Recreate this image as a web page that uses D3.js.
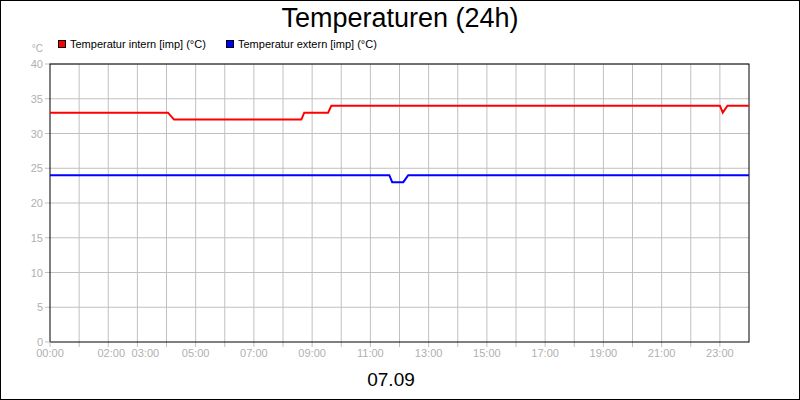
<!DOCTYPE html>
<html><head><meta charset="utf-8">
<script src="https://cdn.jsdelivr.net/npm/d3@7"></script>
<style>body{margin:0}svg{display:block;font-family:"Liberation Sans",Arial,sans-serif}</style>
</head><body><svg id="c" width="800" height="400"></svg>
<script>
const internHours = [0, 4.05, 4.26, 8.63, 8.73, 9.55, 9.66, 23.0, 23.1, 23.26, 24];
const internValues = [33, 33, 32, 32, 33, 33, 34, 34, 33, 34, 34];
const externHours = [0, 11.65, 11.75, 12.13, 12.3, 24];
const externValues = [24, 24, 23, 23, 24, 24];
const tickHours = [0, 2, 3, 5, 7, 9, 11, 13, 15, 17, 19, 21, 23];
const yTicks = [0, 5, 10, 15, 20, 25, 30, 35, 40];

const svg = d3.select("#c");
svg.append("rect").attr("x", 0.5).attr("y", 0.5).attr("width", 799).attr("height", 399)
  .attr("fill", "#fff").attr("stroke", "#000");

const x = d3.scaleLinear().domain([0, 24]).range([50, 749]);
const y = d3.scaleLinear().domain([0, 40]).range([342, 64]);

// Gitter
svg.append("g").selectAll("line").data(d3.range(1, 24)).join("line")
  .attr("x1", d => x(d)).attr("x2", d => x(d)).attr("y1", 64).attr("y2", 347)
  .attr("stroke", "#c0c0c0");
svg.append("g").selectAll("line").data(yTicks.slice(1)).join("line")
  .attr("x1", 45).attr("x2", 749).attr("y1", d => y(d)).attr("y2", d => y(d))
  .attr("stroke", "#c0c0c0");

svg.append("rect").attr("x", 50).attr("y", 64).attr("width", 699).attr("height", 278)
  .attr("fill", "none").attr("stroke", "#000");
svg.append("line").attr("x1", 50).attr("x2", 50).attr("y1", 342).attr("y2", 347).attr("stroke", "#c0c0c0");
svg.append("line").attr("x1", 45).attr("x2", 50).attr("y1", 342).attr("y2", 342).attr("stroke", "#c0c0c0");

svg.append("g").selectAll("text").data(yTicks).join("text")
  .attr("x", 43).attr("y", d => y(d) + 4).attr("text-anchor", "end")
  .attr("font-size", 11).attr("fill", "#b0b0b0").text(d => d);
svg.append("text").attr("x", 43).attr("y", 52).attr("text-anchor", "end")
  .attr("font-size", 10).attr("fill", "#b0b0b0").text("°C");

svg.append("g").selectAll("text").data(tickHours).join("text")
  .attr("x", d => x(d) + (d === 2 ? 3 : d === 3 ? 8 : 0)).attr("y", 357).attr("text-anchor", "middle")
  .attr("font-size", 11).attr("fill", "#b0b0b0")
  .text(d => String(d).padStart(2, "0") + ":00");

const line = d3.line().x(d => x(d[0])).y(d => y(d[1]));
svg.append("path").datum(internHours.map((h, i) => [h, internValues[i]]))
  .attr("d", line).attr("fill", "none").attr("stroke", "#ff0000").attr("stroke-width", 2);
svg.append("path").datum(externHours.map((h, i) => [h, externValues[i]]))
  .attr("d", line).attr("fill", "none").attr("stroke", "#0000ff").attr("stroke-width", 2);

svg.append("text").attr("x", 400).attr("y", 27).attr("text-anchor", "middle")
  .attr("font-size", 27).text("Temperaturen (24h)");
svg.append("text").attr("x", 391).attr("y", 386).attr("text-anchor", "middle")
  .attr("font-size", 19).text("07.09");

const legend = [["Temperatur intern [imp] (°C)", "#ff0000", 58], ["Temperatur extern [imp] (°C)", "#0000ff", 226]];
legend.forEach(([t, c, lx]) => {
  svg.append("rect").attr("x", lx + 0.5).attr("y", 40.5).attr("width", 7).attr("height", 7)
    .attr("fill", c).attr("stroke", "#000");
  svg.append("text").attr("x", lx + 12).attr("y", 48).attr("font-size", 11).text(t);
});
</script></body></html>
